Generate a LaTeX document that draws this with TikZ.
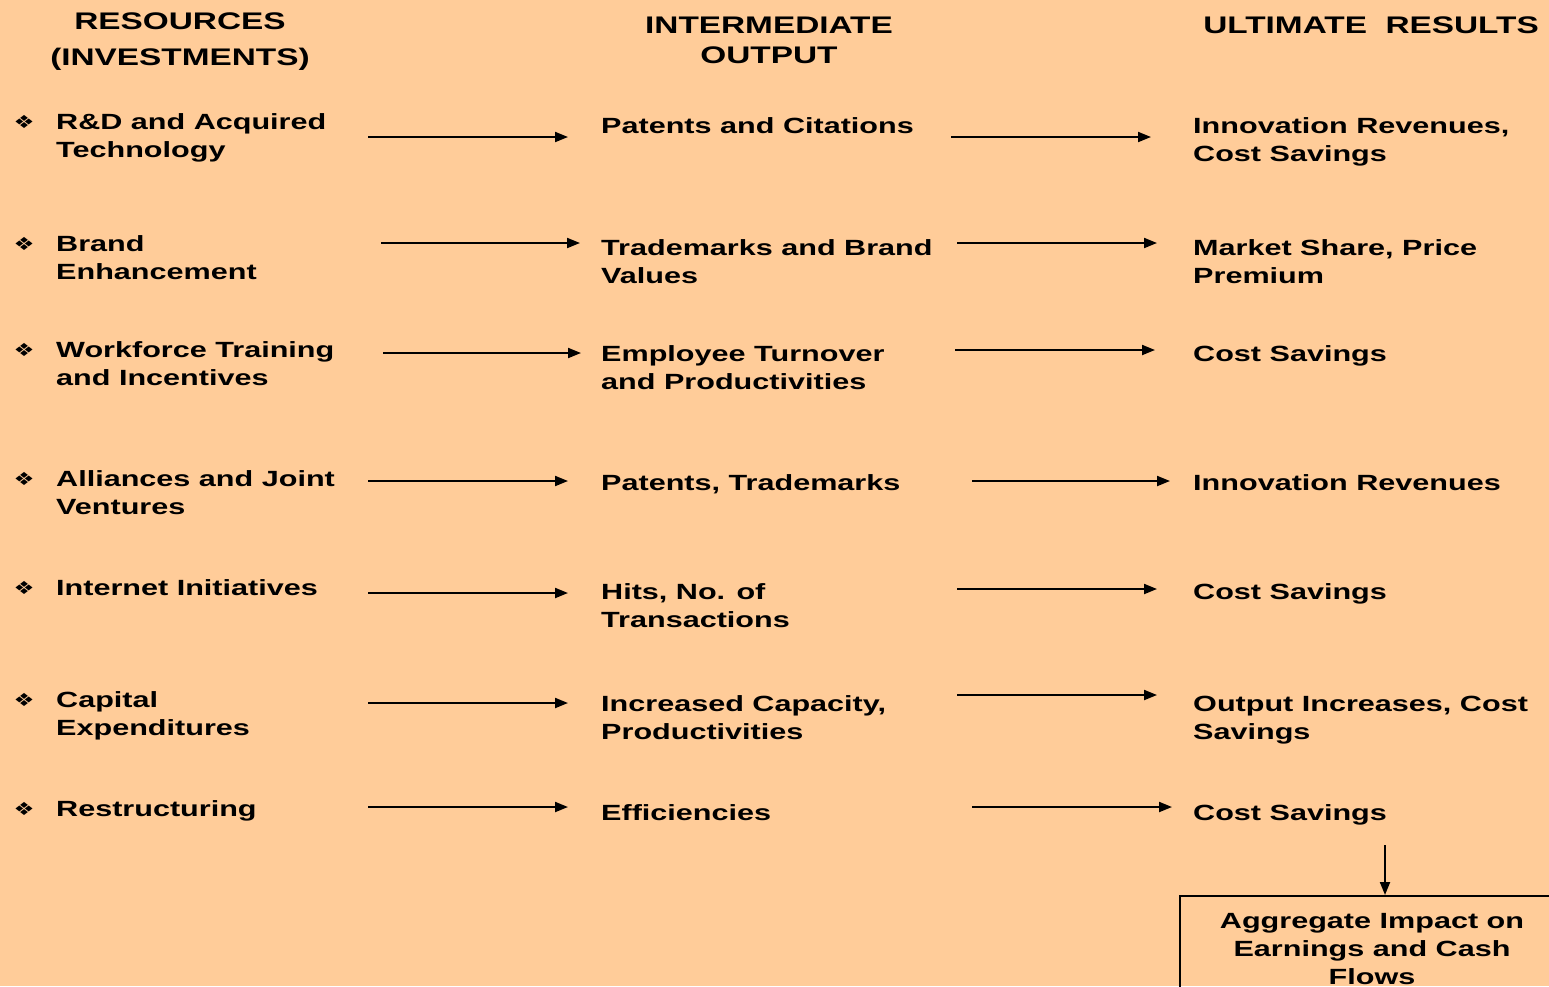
\documentclass[tikz,border=0pt]{standalone}
\usepackage{fontspec}
\usetikzlibrary{arrows.meta}
\newfontfamily\dfont{Liberation Sans}[FakeStretch=1.39]
\newfontfamily\symfont{DejaVu Sans}[FakeStretch=1.3]
\definecolor{bgpeach}{RGB}{255,204,153}
\begin{document}
\begin{tikzpicture}[x=1pt,y=-1pt,
  lbl/.style={anchor=north west, inner sep=0pt, align=left,
    font=\dfont\bfseries\fontsize{22}{28}\selectfont},
  hdr/.style={anchor=base, inner sep=0pt,
    font=\dfont\bfseries\fontsize{24}{30}\selectfont},
  bul/.style={inner sep=0pt, font=\symfont\fontsize{18}{18}\selectfont},
  arr/.style={line width=2pt, -{Triangle[length=13pt,width=10pt]}},
  aggbox/.style={draw, line width=2pt, anchor=north west, inner sep=0pt,
    minimum width=384pt, minimum height=106pt, align=center,
    font=\dfont\bfseries\fontsize{22}{28}\selectfont}]
  \useasboundingbox (0,0) rectangle (1549,986);
  \clip (0,0) rectangle (1549,986);
  \fill[bgpeach] (0,0) rectangle (1549,986);

  % column headings
  \node[hdr] (h1a) at (180,29) {RESOURCES};
  \node[hdr] (h1b) at (180,65) {(INVESTMENTS)};
  \node[hdr] (h2a) at (769,33) {INTERMEDIATE};
  \node[hdr] (h2b) at (769,63) {OUTPUT};
  \node[hdr] (h3) at (1371,33) {ULTIMATE\ \ RESULTS};

  % resources
  \node[lbl] (r1) at (56,109.4) {\strut R\&D and Acquired\\Technology};
  \node[lbl] (r2) at (56,231.4) {\strut Brand\\Enhancement};
  \node[lbl] (r3) at (56,337.4) {\strut Workforce Training\\and Incentives};
  \node[lbl] (r4) at (56,466.4) {\strut Alliances and Joint\\Ventures};
  \node[lbl] (r5) at (56,575.4) {\strut Internet Initiatives};
  \node[lbl] (r6) at (56,687.4) {\strut Capital\\Expenditures};
  \node[lbl] (r7) at (56,796.4) {\strut Restructuring};

  \foreach \i/\y in {1/122,2/244,3/350,4/479,5/588,6/700,7/809}
    \node[bul] (b\i) at (24,\y) {❖};

  % intermediate output
  \node[lbl] (m1) at (601,113.4) {\strut Patents and Citations};
  \node[lbl] (m2) at (601,235.4) {\strut Trademarks and Brand\\Values};
  \node[lbl] (m3) at (601,341.4) {\strut Employee Turnover\\and Productivities};
  \node[lbl] (m4) at (601,470.4) {\strut Patents, Trademarks};
  \node[lbl] (m5) at (601,579.4) {\strut Hits, No. of\\Transactions};
  \node[lbl] (m6) at (601,691.4) {\strut Increased Capacity,\\Productivities};
  \node[lbl] (m7) at (601,800.4) {\strut Efficiencies};

  % ultimate results
  \node[lbl] (u1) at (1193,113.4) {\strut Innovation Revenues,\\Cost Savings};
  \node[lbl] (u2) at (1193,235.4) {\strut Market Share, Price\\Premium};
  \node[lbl] (u3) at (1193,341.4) {\strut Cost Savings};
  \node[lbl] (u4) at (1193,470.4) {\strut Innovation Revenues};
  \node[lbl] (u5) at (1193,579.4) {\strut Cost Savings};
  \node[lbl] (u6) at (1193,691.4) {\strut Output Increases, Cost\\Savings};
  \node[lbl] (u7) at (1193,800.4) {\strut Cost Savings};

  % arrow end points, resources -> intermediate
  \foreach \i/\xa/\xb/\y in {1/368/568/137, 2/381/580/243, 3/383/581/353,
                              4/368/568/481, 5/368/568/593, 6/368/568/703,
                              7/368/568/807}{
    \coordinate (la\i) at (\xa,\y);
    \coordinate (lb\i) at (\xb,\y);
    \draw[arr] (la\i) -- (lb\i);
  }
  % arrow end points, intermediate -> results
  \foreach \i/\xa/\xb/\y in {1/951/1151/137, 2/957/1157/243, 3/955/1155/350,
                              4/972/1170/481, 5/957/1157/589, 6/957/1157/695,
                              7/972/1172/807}{
    \coordinate (ra\i) at (\xa,\y);
    \coordinate (rb\i) at (\xb,\y);
    \draw[arr] (ra\i) -- (rb\i);
  }

  % aggregate impact
  \node[aggbox] (agg) at (1179,895) {Aggregate Impact on\\Earnings and Cash\\Flows};
  \coordinate (aggin) at (1385,845);
  \draw[arr] (aggin) -- (aggin |- agg.north);
\end{tikzpicture}
\end{document}
